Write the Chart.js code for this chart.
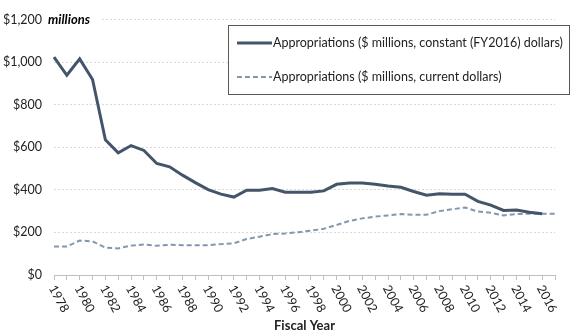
<!DOCTYPE html>
<html>
<head>
<meta charset="utf-8">
<script src="https://cdn.jsdelivr.net/npm/chart.js@4.4.0/dist/chart.umd.min.js"></script>
<style>
  html, body { margin: 0; padding: 0; background: #fff; }
  #wrap { width: 576px; height: 336px; position: relative; }
</style>
</head>
<body>
<div id="wrap"><canvas id="chart" width="576" height="336"></canvas></div>
<script>
const years = ['1978','1979','1980','1981','1982','1983','1984','1985','1986','1987',
  '1988','1989','1990','1991','1992','1993','1994','1995','1996','1997',
  '1998','1999','2000','2001','2002','2003','2004','2005','2006','2007',
  '2008','2009','2010','2011','2012','2013','2014','2015','2016','2017'];

// constant (FY2016) dollars, no 2017 value
const constantDollars = [1023, 938, 1015, 918, 635, 574, 608, 585, 524, 508,
  469, 434, 401, 380, 366, 398, 398, 406, 389, 389,
  389, 395, 426, 432, 432, 426, 418, 412, 392, 375,
  382, 379, 379, 346, 328, 303, 305, 295, 288, null];

const currentDollars = [134, 134, 162, 158, 128, 125, 138, 143, 137, 142,
  140, 140, 140, 145, 149, 169, 180, 192, 195, 201,
  208, 217, 235, 254, 266, 274, 280, 286, 283, 283,
  300, 309, 317, 298, 292, 280, 286, 288, 288, 288];

const yTicks = [0, 200, 400, 600, 800, 1000, 1200];

const FONT = 'Lato, "Open Sans", sans-serif';
const TEXT = '#222';

// x labels rotated clockwise, drawn at the scale's tick positions
const xLabelPlugin = {
  id: 'xLabels',
  afterDraw(chart) {
    const ctx = chart.ctx;
    const xs = chart.scales.x;
    ctx.save();
    ctx.font = '12.5px ' + FONT;
    ctx.fillStyle = TEXT;
    ctx.textAlign = 'left';
    ctx.textBaseline = 'middle';
    years.forEach((y, i) => {
      if (i % 2) return;
      const px = xs.getPixelForTick(i);
      ctx.save();
      ctx.translate(px - 2, xs.top + 11);
      ctx.rotate(62 * Math.PI / 180);
      ctx.fillText(y, 0, 0);
      ctx.restore();
    });
    ctx.restore();
  }
};

// "millions" unit note and boxed legend
const notePlugin = {
  id: 'notes',
  afterDraw(chart) {
    const ctx = chart.ctx;
    const a = chart.chartArea;
    ctx.save();
    ctx.font = 'italic bold 13px ' + FONT;
    const w = ctx.measureText('millions').width;
    ctx.fillStyle = '#fff';
    ctx.fillRect(a.left - 7, a.top - 8, w + 12, 16);
    ctx.fillStyle = '#000';
    ctx.textBaseline = 'middle';
    ctx.fillText('millions', a.left - 6, a.top);

    const bx = 228.5, by = 25.5, bw = 341, bh = 69;
    ctx.fillStyle = '#fff';
    ctx.fillRect(bx, by, bw, bh);
    ctx.strokeStyle = '#595959';
    ctx.lineWidth = 1;
    ctx.strokeRect(bx, by, bw, bh);
    ctx.font = '12.5px ' + FONT;
    const rows = [43, 77];
    chart.data.datasets.forEach((ds, i) => {
      const ly = rows[i];
      ctx.beginPath();
      ctx.strokeStyle = ds.borderColor;
      ctx.lineWidth = ds.borderWidth;
      ctx.setLineDash(ds.borderDash || []);
      ctx.moveTo(237, ly);
      ctx.lineTo(272, ly);
      ctx.stroke();
      ctx.setLineDash([]);
      ctx.fillStyle = TEXT;
      ctx.fillText(ds.label, 273, ly);
    });
    ctx.restore();
  }
};

new Chart(document.getElementById('chart'), {
  type: 'line',
  data: {
    labels: years,
    datasets: [
      {
        label: 'Appropriations ($ millions, constant (FY2016) dollars)',
        data: constantDollars,
        borderColor: '#44546A',
        borderWidth: 3,
        pointRadius: 0,
        tension: 0,
        spanGaps: false
      },
      {
        label: 'Appropriations ($ millions, current dollars)',
        data: currentDollars,
        borderColor: '#8497B0',
        borderWidth: 2,
        borderDash: [5, 3],
        pointRadius: 0,
        tension: 0
      }
    ]
  },
  options: {
    responsive: false,
    animation: false,
    layout: { padding: { top: 15, right: 21, left: 0, bottom: 0 } },
    plugins: {
      legend: { display: false },
      tooltip: { enabled: false }
    },
    scales: {
      x: {
        offset: false,
        grid: { drawOnChartArea: false, drawTicks: true, tickLength: 5, color: '#BFBFBF' },
        border: { display: true, color: '#BFBFBF' },
        ticks: { display: false },
        title: {
          display: true,
          text: 'Fiscal Year',
          font: { family: FONT, size: 13, weight: 'bold' },
          color: TEXT,
          padding: { top: 0, bottom: 2 }
        },
        afterFit(scale) { scale.height = 61; }
      },
      y: {
        min: 0,
        max: 1200,
        afterBuildTicks(scale) { scale.ticks = yTicks.map(v => ({ value: v })); },
        grid: { drawTicks: false, color: '#D9D9D9' },
        border: { display: false, dash: [2, 2] },
        ticks: {
          padding: 12,
          color: TEXT,
          font: { family: FONT, size: 12.5 },
          callback: v => '$' + v.toLocaleString('en-US')
        },
        afterFit(scale) { scale.width = 54; }
      }
    }
  },
  plugins: [xLabelPlugin, notePlugin]
});
</script>
</body>
</html>
